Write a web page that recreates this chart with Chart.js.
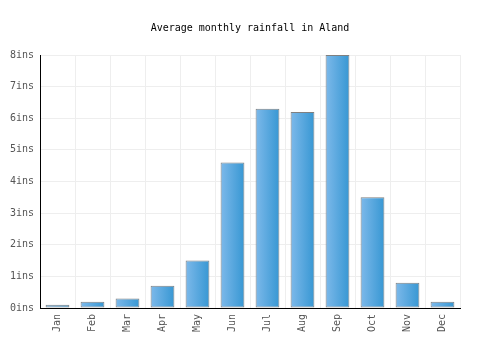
<!DOCTYPE html>
<html>
<head>
<meta charset="utf-8">
<script src="https://cdn.jsdelivr.net/npm/chart.js@4"></script>
<style>
  html, body { margin: 0; padding: 0; background: #fff; }
  #wrap { width: 500px; height: 350px; }
</style>
</head>
<body>
<div id="wrap"><canvas id="rainChart"></canvas></div>
<script>
// DADOS
const months = ['Jan', 'Feb', 'Mar', 'Apr', 'May', 'Jun', 'Jul', 'Aug', 'Sep', 'Oct', 'Nov', 'Dec'];
const rainfall = [0.1, 0.2, 0.3, 0.7, 1.5, 4.6, 6.3, 6.2, 8.0, 3.5, 0.8, 0.2];
const yTicks = [0, 1, 2, 3, 4, 5, 6, 7, 8];

const FONT = 'DejaVu Sans Mono';
const BAR_PCT = 0.68;

// gradiente horizontal por barra
function barGradient(context) {
    const chart = context.chart;
    const xScale = chart.scales.x;
    if (!xScale || !chart.chartArea) return '#4aa3dc';
    const cx = xScale.getPixelForValue(context.dataIndex);
    const w = (xScale.width / months.length) * BAR_PCT;
    const g = chart.ctx.createLinearGradient(cx - w / 2, 0, cx + w / 2, 0);
    g.addColorStop(0, '#7db9ea');
    g.addColorStop(1, '#3797d3');
    return g;
}

const ctx = document.getElementById('rainChart');

new Chart(ctx, {
    type: 'bar',
    data: {
        labels: months,
        datasets: [{
            data: rainfall,
            backgroundColor: barGradient,
            borderColor: '#808080',
            borderWidth: 1,
            borderSkipped: false,
            barPercentage: BAR_PCT,
            categoryPercentage: 1
        }]
    },
    options: {
        responsive: true,
        maintainAspectRatio: false,
        animation: false,
        layout: { padding: 0 },
        plugins: {
            legend: { display: false },
            tooltip: { enabled: false },
            title: {
                display: true,
                text: 'Average monthly rainfall in Aland',
                color: '#000',
                font: { family: FONT, size: 10, weight: 'normal' },
                padding: { top: 22, bottom: 21 }
            }
        },
        scales: {
            x: {
                grid: { color: '#eeeeee', drawTicks: false, offset: true },
                border: { color: '#000', width: 1 },
                ticks: {
                    color: '#555',
                    font: { family: FONT, size: 10 },
                    minRotation: 90,
                    maxRotation: 90,
                    padding: 6
                },
                afterFit: (scale) => { scale.height = 42; }
            },
            y: {
                min: 0,
                max: 8,
                afterBuildTicks: (scale) => {
                    scale.ticks = yTicks.map(v => ({ value: v }));
                },
                grid: { color: '#eeeeee', drawTicks: false },
                border: { color: '#000', width: 1 },
                ticks: {
                    color: '#555',
                    font: { family: FONT, size: 10 },
                    padding: 6,
                    callback: (v) => v + 'ins'
                },
                afterFit: (scale) => { scale.width = 40; }
            },
            // margem direita
            yRight: {
                position: 'right',
                grid: { display: false },
                border: { display: false },
                ticks: { display: false },
                afterFit: (scale) => { scale.width = 40; }
            }
        }
    }
});
</script>
</body>
</html>
